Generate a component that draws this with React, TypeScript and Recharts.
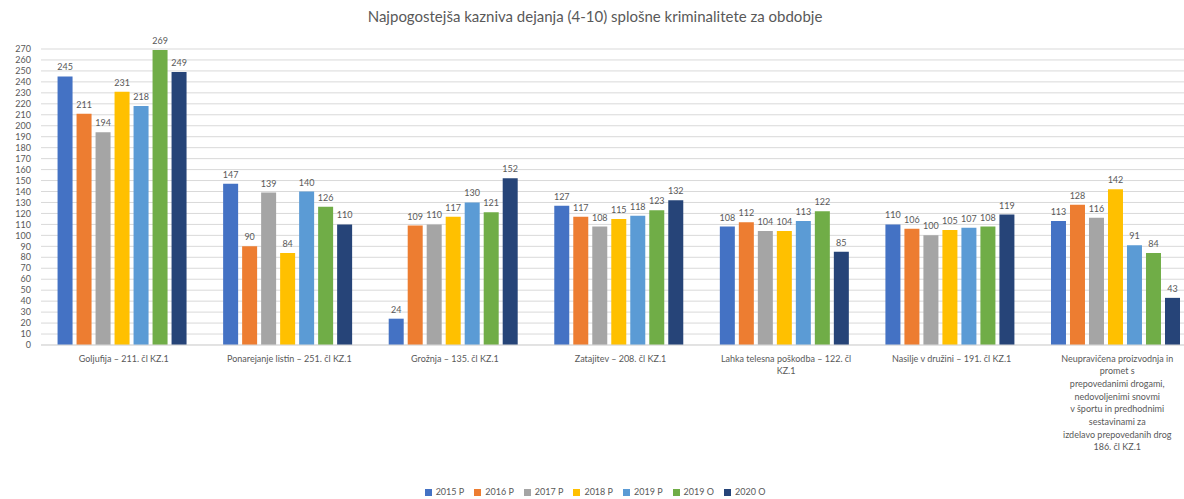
import React from "react";
import {
  BarChart,
  Bar,
  XAxis,
  YAxis,
  CartesianGrid,
  Legend,
  LabelList,
} from "recharts";

const FONT = "Lato, 'Liberation Sans', sans-serif";
const GRAY = "#595959";

const categories = [
  "Goljufija – 211. čl KZ.1",
  "Ponarejanje listin – 251. čl KZ.1",
  "Grožnja – 135. čl KZ.1",
  "Zatajitev – 208. čl KZ.1",
  "Lahka telesna poškodba – 122. čl\nKZ.1",
  "Nasilje v družini – 191. čl KZ.1",
  "Neupravičena proizvodnja in\npromet s\nprepovedanimi drogami,\nnedovoljenimi snovmi\nv športu in predhodnimi\nsestavinami za\nizdelavo prepovedanih drog\n186. čl KZ.1",
];

const seriesNames = ["2015 P", "2016 P", "2017 P", "2018 P", "2019 P", "2019 O", "2020 O"];
const seriesColors = ["#4472C4", "#ED7D31", "#A5A5A5", "#FFC000", "#5B9BD5", "#70AD47", "#264478"];

const values2015P = [245, 147, 24, 127, 108, 110, 113];
const values2016P = [211, 90, 109, 117, 112, 106, 128];
const values2017P = [194, 139, 110, 108, 104, 100, 116];
const values2018P = [231, 84, 117, 115, 104, 105, 142];
const values2019P = [218, 140, 130, 118, 113, 107, 91];
const values2019O = [269, 126, 121, 123, 122, 108, 84];
const values2020O = [249, 110, 152, 132, 85, 119, 43];

const seriesValues = [values2015P, values2016P, values2017P, values2018P, values2019P, values2019O, values2020O];

const yTicks = Array.from({ length: 28 }, (_, i) => i * 10);

const data = categories.map((name, i) => {
  const row: Record<string, string | number> = { name };
  seriesNames.forEach((s, j) => {
    row[s] = seriesValues[j][i];
  });
  return row;
});

const CategoryTick = ({ x, y, payload }: any) => {
  const lines = String(payload.value).split("\n");
  return (
    <text x={x} y={y} textAnchor="middle" fontSize={9} fill={GRAY} fontFamily={FONT}>
      {lines.map((line, i) => (
        <tspan key={i} x={x} dy={i === 0 ? 16.5 : 12.7}>
          {line}
        </tspan>
      ))}
    </text>
  );
};

export default function App() {
  return (
    <div
      style={{
        position: "absolute",
        left: 0,
        top: 0,
        width: 1184,
        height: 499,
        overflow: "hidden",
        background: "#fff",
        fontFamily: FONT,
      }}
    >
      <div
        style={{
          position: "absolute",
          left: 0,
          width: 1190,
          top: 7,
          textAlign: "center",
          fontSize: 15,
          color: GRAY,
        }}
      >
        Najpogostejša kazniva dejanja (4-10) splošne kriminalitete za obdobje
      </div>
      <BarChart
        width={1200}
        height={499}
        data={data}
        margin={{ top: 49, right: 0, bottom: 0, left: 0 }}
        barCategoryGap="10%"
        barGap={4}
      >
        <CartesianGrid vertical={false} stroke="#d9d9d9" />
        <XAxis
          dataKey="name"
          tick={<CategoryTick />}
          tickLine={false}
          tickSize={0}
          tickMargin={0}
          interval={0}
          height={141}
          stroke="#d9d9d9"
        />
        <YAxis
          width={41}
          domain={[0, 270]}
          ticks={yTicks}
          interval={0}
          axisLine={false}
          tickLine={false}
          tickMargin={4}
          tick={{ fontSize: 9, fill: GRAY, fontFamily: FONT }}
        />
        <Legend
          verticalAlign="bottom"
          align="center"
          iconType="square"
          iconSize={7}
          itemSorter={(item: any) => seriesNames.indexOf(String(item.value))}
          wrapperStyle={{ fontSize: 9, fontFamily: FONT, paddingBottom: 2 }}
          formatter={(value) => <span style={{ color: GRAY }}>{value}</span>}
        />
        {seriesNames.map((s, j) => (
          <Bar key={s} dataKey={s} fill={seriesColors[j]} isAnimationActive={false}>
            <LabelList
              dataKey={s}
              position="top"
              offset={6}
              fontSize={9}
              fill={GRAY}
              fontFamily={FONT}
            />
          </Bar>
        ))}
      </BarChart>
    </div>
  );
}
